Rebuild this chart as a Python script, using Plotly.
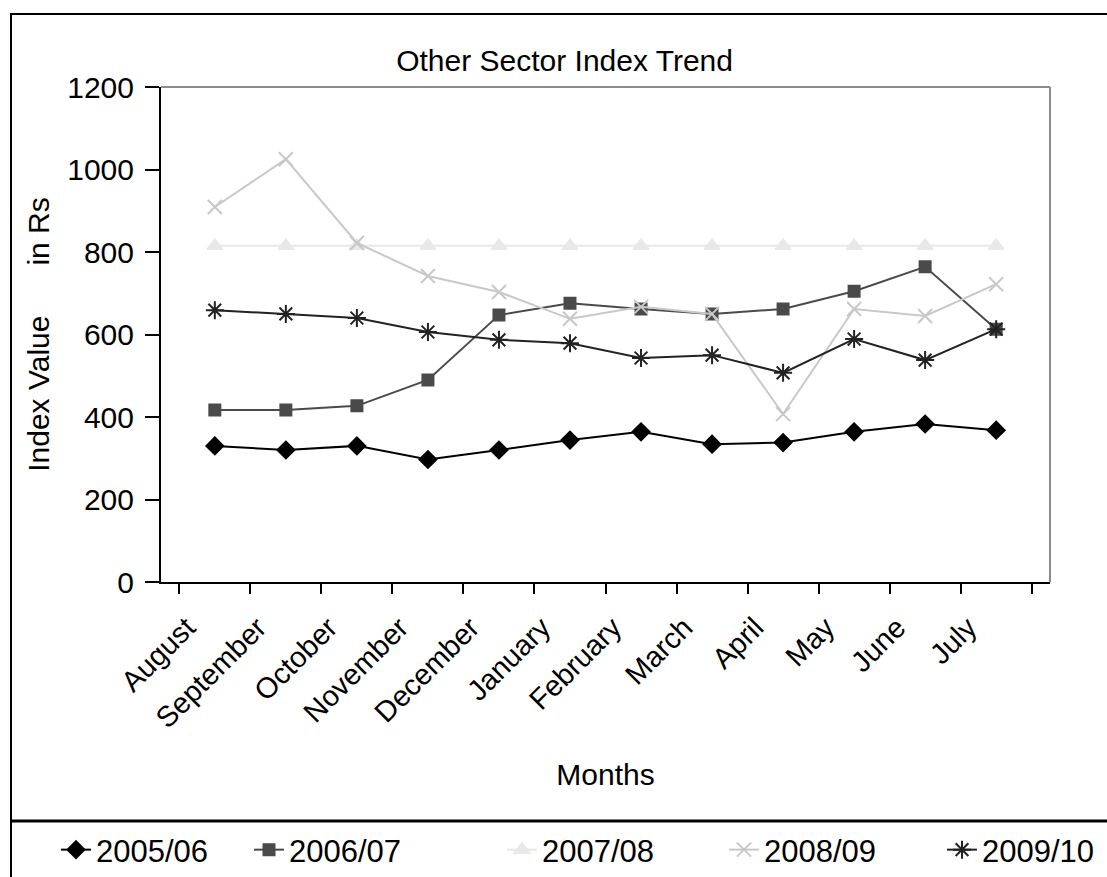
import plotly.graph_objects as go

# Datos
months = ["August", "September", "October", "November", "December", "January",
          "February", "March", "April", "May", "June", "July"]
y_2005_06 = [330, 320, 330, 297, 320, 344, 364, 334, 338, 364, 383, 368]
y_2006_07 = [417, 417, 427, 490, 647, 676, 662, 650, 662, 705, 764, 613]
y_2007_08 = [815, 815, 815, 815, 815, 815, 815, 815, 815, 815, 815, 815]
y_2008_09 = [909, 1025, 822, 742, 703, 638, 667, 650, 407, 662, 645, 722]
y_2009_10 = [659, 650, 640, 606, 587, 579, 543, 550, 507, 589, 538, 613]
y_ticks = [0, 200, 400, 600, 800, 1000, 1200]

FONT = "Liberation Sans, Arial, sans-serif"
W, H = 1107, 877
L, R, T, B = 161, 57, 87, 295
PW, PH = W - L - R, H - T - B


def px_x(px):
    return (px - L) / PW


def px_y(py):
    return (H - B - py) / PH


# cada serie con su propia leyenda, colocada donde está en el original
series = [
    {"name": "2005/06", "y": y_2005_06, "color": "#000000", "symbol": "diamond", "size": 13, "lx": 97},
    {"name": "2006/07", "y": y_2006_07, "color": "#4a4a4a", "symbol": "square", "size": 11, "lx": 290},
    {"name": "2007/08", "y": y_2007_08, "color": "#e8e8e8", "symbol": "triangle-up", "size": 13, "lx": 543},
    {"name": "2008/09", "y": y_2008_09, "color": "#c8c8c8", "symbol": "x-thin", "size": 14, "lx": 765},
    {"name": "2009/10", "y": y_2009_10, "color": "#222222", "symbol": "asterisk", "size": 15, "lx": 983},
]

fig = go.Figure()
legends = {}
for i, s in enumerate(series):
    key = "legend" if i == 0 else f"legend{i + 1}"
    fig.add_trace(go.Scatter(
        x=months, y=s["y"], name=s["name"], mode="lines+markers",
        line=dict(color=s["color"], width=2),
        marker=dict(symbol=s["symbol"], size=s["size"], color=s["color"],
                    line=dict(color=s["color"], width=2)),
        legend=key,
    ))
    legends[key] = dict(
        x=px_x(s["lx"] - 41), xanchor="left", y=px_y(823), yanchor="top",
        font=dict(size=31), bgcolor="rgba(0,0,0,0)",
    )

fig.update_layout(
    width=W, height=H,
    plot_bgcolor="white", paper_bgcolor="white",
    margin=dict(l=L, r=R, t=T, b=B, autoexpand=False),
    font=dict(family=FONT, size=30, color="black"),
    title=dict(text="Other Sector Index Trend", font=dict(size=30),
               x=0.51, xanchor="center", y=1 - 60 / H, yanchor="middle"),
    xaxis=dict(
        type="category", showgrid=False, zeroline=False,
        showline=True, linecolor="black", linewidth=2,
        ticks="outside", tickson="boundaries", ticklen=10, tickwidth=2, tickcolor="black",
        tickangle=-45, tickfont=dict(size=29),
        ticklabelshift=-28, ticklabelstandoff=15,
        title=dict(text="Months", font=dict(size=30), standoff=31),
        automargin=False,
    ),
    yaxis=dict(
        range=[0, 1200], tickvals=y_ticks, showgrid=False, zeroline=False,
        showline=True, linecolor="black", linewidth=2,
        ticks="outside", ticklen=14, tickwidth=2, tickcolor="black",
        tickfont=dict(size=30), ticklabelstandoff=5,
        title=dict(text="Index Value\u00a0\u00a0\u00a0\u00a0\u00a0 in Rs", font=dict(size=30), standoff=9),
        automargin=False,
    ),
    showlegend=True,
    **legends,
)

# Borde gris del área de trazado (arriba y derecha)
fig.add_shape(type="line", xref="paper", yref="paper", x0=0, y0=1, x1=1, y1=1,
              line=dict(color="#8c8c8c", width=2))
fig.add_shape(type="line", xref="paper", yref="paper", x0=1, y0=0, x1=1, y1=1,
              line=dict(color="#8c8c8c", width=2))

# Marco exterior y caja de la leyenda
fig.add_shape(type="rect", xref="paper", yref="paper",
              x0=px_x(11), y0=px_y(14), x1=px_x(1130), y1=px_y(900),
              line=dict(color="black", width=2), layer="below")
fig.add_shape(type="line", xref="paper", yref="paper",
              x0=px_x(11), y0=px_y(821), x1=px_x(1110), y1=px_y(821),
              line=dict(color="black", width=3))

fig.write_html("out.html", config={"displayModeBar": False},
               post_script="document.body.style.margin='0';")
